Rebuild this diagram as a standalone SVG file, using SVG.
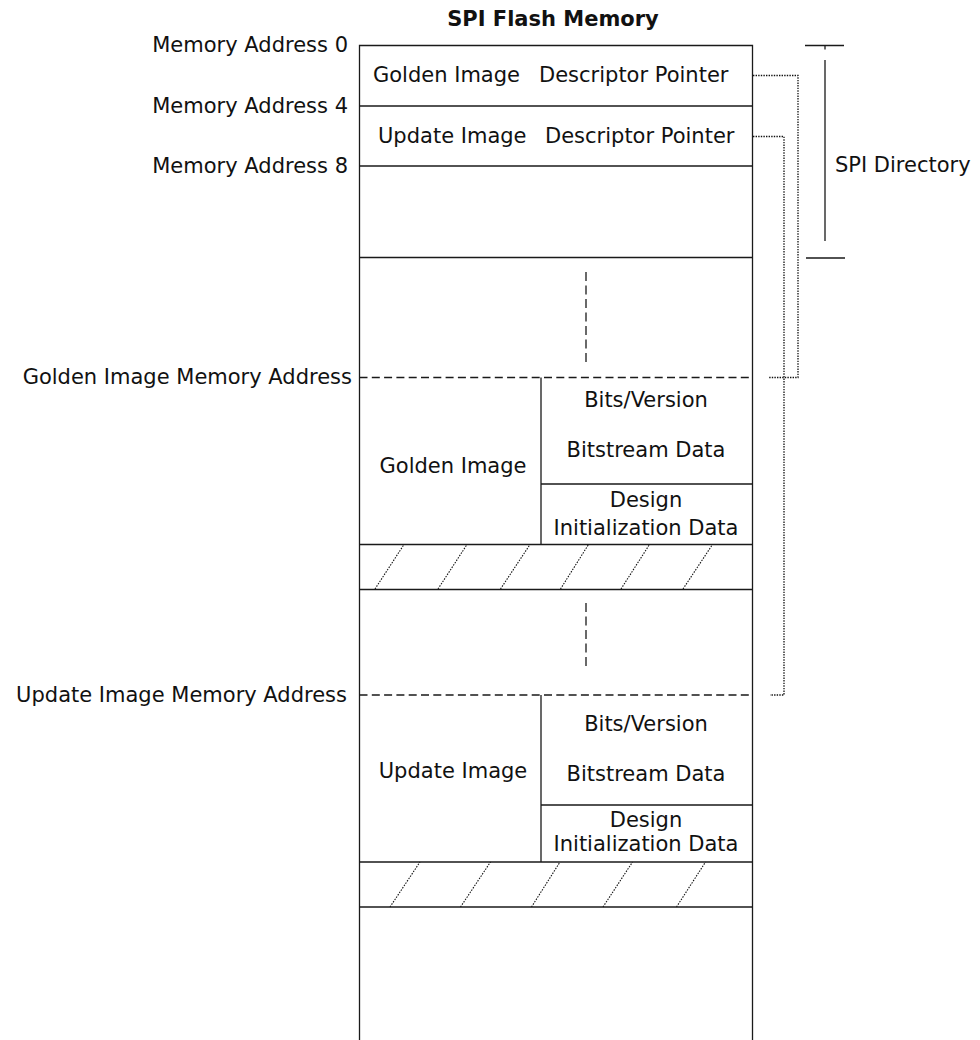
<svg xmlns="http://www.w3.org/2000/svg" width="980" height="1040" viewBox="0 0 980 1040">
  <style>
    text { font-family: "DejaVu Sans", Verdana, "Noto Sans", sans-serif; font-size: 21px; fill: #111; }
    .title { font-weight: bold; }
    .mid { text-anchor: middle; }
    .end { text-anchor: end; }
    .solid { stroke: #1a1a1a; stroke-width: 1.3; fill: none; }
    .dash { stroke: #1a1a1a; stroke-width: 1.3; fill: none; stroke-dasharray: 8 4.3; }
    .vdash { stroke: #1a1a1a; stroke-width: 1.3; fill: none; stroke-dasharray: 9 4.5; }
    .dot { stroke: #111; stroke-width: 1.3; fill: none; stroke-dasharray: 1.4 1.2; }
    .hatch { stroke: #111; stroke-width: 1.1; fill: none; stroke-dasharray: 1.5 1.3; }
  </style>

  <rect width="980" height="1040" fill="#fff"/>

  <!-- heading -->
  <text class="title mid" x="553" y="26">SPI Flash Memory</text>

  <!-- flash column outline (runs off the bottom edge) -->
  <g id="flash-column">
    <path class="solid" d="M359.5 1045 V45.5 H752.5 V1045"/>
  </g>

  <!-- address labels on the left -->
  <g id="address-labels">
    <text class="end" x="348" y="52">Memory Address 0</text>
    <text class="end" x="348" y="113">Memory Address 4</text>
    <text class="end" x="348" y="173">Memory Address 8</text>
    <text class="end" x="352" y="384">Golden Image Memory Address</text>
    <text class="end" x="347" y="702">Update Image Memory Address</text>
  </g>

  <!-- SPI directory entries -->
  <g id="golden-pointer">
    <text y="82"><tspan x="373">Golden Image</tspan><tspan x="539">Descriptor Pointer</tspan></text>
    <path class="solid" d="M359.5 106 H752.5"/>
  </g>
  <g id="update-pointer">
    <text y="143"><tspan x="378">Update Image</tspan><tspan x="545">Descriptor Pointer</tspan></text>
    <path class="solid" d="M359.5 166 H752.5"/>
  </g>
  <g id="directory-reserved">
    <path class="solid" d="M359.5 257.5 H752.5"/>
  </g>

  <!-- gap before the golden image -->
  <g id="gap-1">
    <path class="vdash" d="M586 272 V362"/>
  </g>

  <!-- golden image -->
  <g id="golden-image">
    <path class="dash" d="M359.5 377.5 H752.5"/>
    <path class="solid" d="M541 377.5 V544.5 M541 484 H752.5 M359.5 544.5 H752.5"/>
    <text class="mid" x="453" y="473">Golden Image</text>
    <text class="mid" x="646" y="407">Bits/Version</text>
    <text class="mid" x="646" y="457">Bitstream Data</text>
    <text class="mid" x="646" y="507">Design</text>
    <text class="mid" x="646" y="535">Initialization Data</text>
  </g>
  <g id="golden-padding">
    <path class="hatch" d="M375 589 L404 544.5 M438 589 L467 544.5 M500.5 589 L530 544.5 M560.5 589 L588.5 544.5 M621 589 L649.5 544.5 M683 589 L712.5 544.5"/>
    <path class="solid" d="M359.5 589.5 H752.5"/>
  </g>

  <!-- gap before the update image -->
  <g id="gap-2">
    <path class="vdash" d="M586 603 V668"/>
  </g>

  <!-- update image -->
  <g id="update-image">
    <path class="dash" d="M359.5 695 H752.5"/>
    <path class="solid" d="M541 695 V862 M541 805 H752.5 M359.5 862 H752.5"/>
    <text class="mid" x="453" y="778">Update Image</text>
    <text class="mid" x="646" y="731">Bits/Version</text>
    <text class="mid" x="646" y="781">Bitstream Data</text>
    <text class="mid" x="646" y="827">Design</text>
    <text class="mid" x="646" y="851">Initialization Data</text>
  </g>
  <g id="update-padding">
    <path class="hatch" d="M390 907 L420 862 M460.5 907 L490.5 862 M531.5 907 L560 862 M603 907 L632.5 862 M676.5 907 L705.5 862"/>
    <path class="solid" d="M359.5 907 H752.5"/>
  </g>

  <!-- SPI directory span marker -->
  <g id="spi-directory">
    <path class="solid" d="M805 45.5 H844 M825 46 V49.5 M825 60 V241 M806 258 H845"/>
    <text x="835" y="172">SPI Directory</text>
  </g>

  <!-- pointer connectors -->
  <g id="connectors">
    <path class="dot" d="M753 75.5 H798 V377.5 H768"/>
    <path class="dot" d="M753 136.5 H784 V695 H770"/>
  </g>
</svg>
